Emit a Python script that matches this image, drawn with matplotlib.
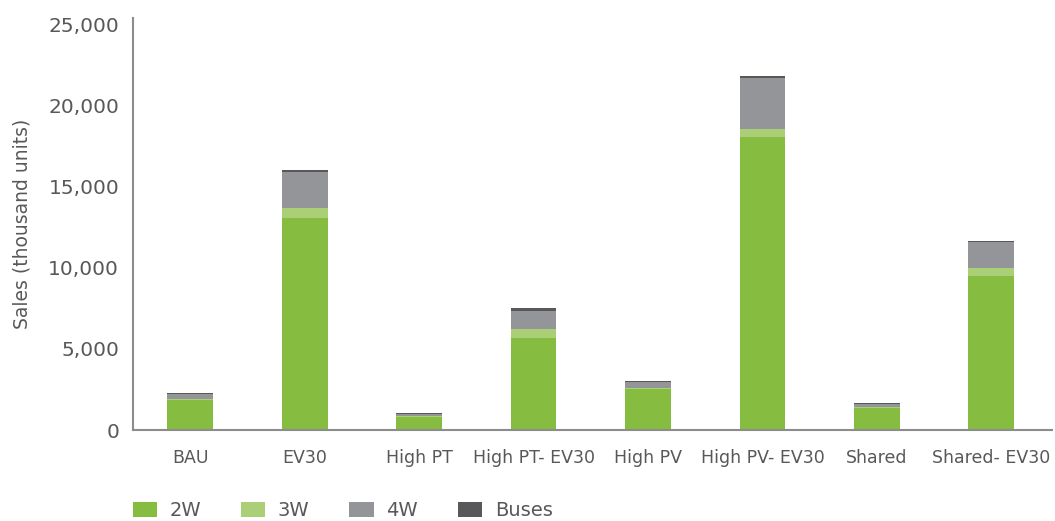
import numpy as np
import matplotlib.pyplot as plt
from matplotlib.ticker import FuncFormatter

# scenario data (thousand units)
scenarios = ["BAU", "EV30", "High PT", "High PT- EV30", "High PV",
             "High PV- EV30", "Shared", "Shared- EV30"]
sales_2w = [1860, 13100, 820, 5680, 2540, 18080, 1350, 9510]
sales_3w = [40, 600, 60, 535, 60, 490, 80, 450]
sales_4w = [330, 2210, 120, 1125, 370, 3140, 185, 1600]
sales_bus = [40, 120, 40, 165, 40, 120, 40, 120]

series = [("2W", sales_2w, "#86bd40"),
          ("3W", sales_3w, "#abcf76"),
          ("4W", sales_4w, "#939598"),
          ("Buses", sales_bus, "#58585a")]

text_col = "#58585a"
plt.rcParams['font.family'] = ['DejaVu Sans']

fig = plt.figure(figsize=(10.55, 5.21), dpi=100)
ax = fig.add_axes([133/1055, 1 - 430/521, (1052 - 133)/1055, (430 - 18)/521])

x = np.arange(len(scenarios))
bottom = np.zeros(len(scenarios))
for name, vals, col in series:
    ax.bar(x, vals, width=0.4, bottom=bottom, color=col, label=name, linewidth=0)
    bottom += np.array(vals)

ax.set_xlim(-0.5, 7.53)
ax.set_ylim(0, 25400)
ax.set_yticks(range(0, 25001, 5000))
ax.yaxis.set_major_formatter(FuncFormatter(lambda v, p: f"{int(v):,}"))
ax.set_xticks(x)
ax.set_xticklabels(scenarios, fontsize=12.5, color=text_col)
ax.tick_params(axis='y', labelsize=14.5, labelcolor=text_col, length=0, pad=10)
ax.tick_params(axis='x', length=0, pad=14)
ax.set_ylabel("Sales (thousand units)", fontsize=13.5, color=text_col, labelpad=12)

for s in ["top", "right"]:
    ax.spines[s].set_visible(False)
for s in ["left", "bottom"]:
    ax.spines[s].set_color("#8c8c8c")
    ax.spines[s].set_linewidth(1.5)

fig.legend(loc="center left", bbox_to_anchor=(115/1055, 1 - 511/521), ncol=4,
           frameon=False, fontsize=14, handlelength=1.25, handleheight=0.82,
           handletextpad=0.65, columnspacing=2.05, labelcolor=text_col)

fig.savefig("out.png", dpi=100)
